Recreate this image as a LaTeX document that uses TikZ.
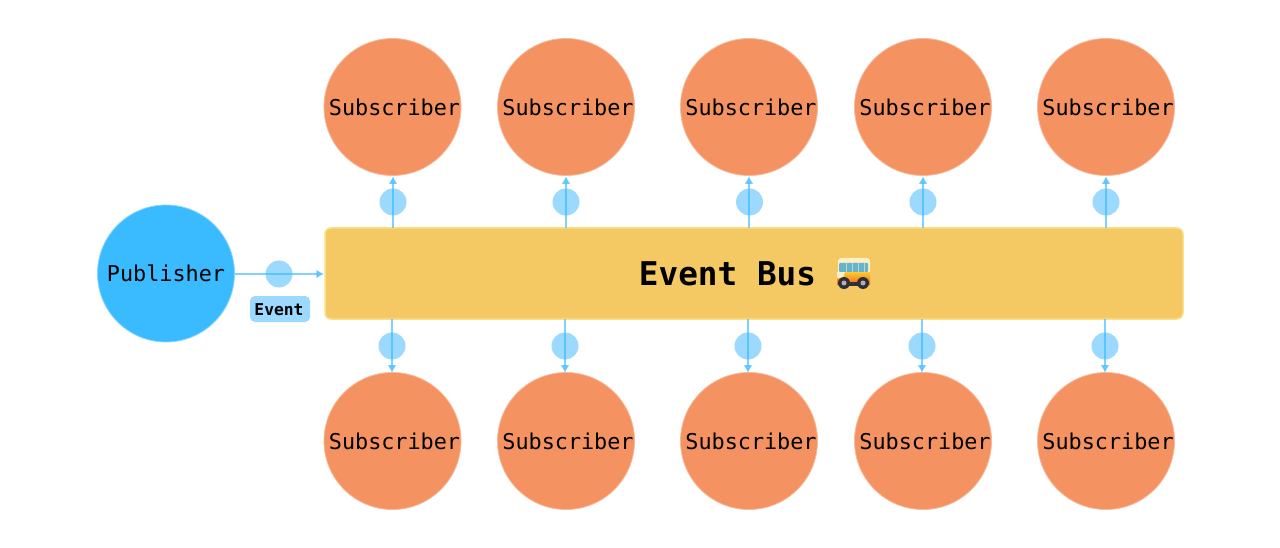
\documentclass[tikz,border=0pt]{standalone}
\usepackage{fontspec}
\setmonofont{DejaVu Sans Mono}
\definecolor{pubblue}{HTML}{3ABAFF}
\definecolor{subor}{HTML}{F49361}
\definecolor{subedge}{HTML}{F7B99A}
\definecolor{busyel}{HTML}{F4C964}
\definecolor{busedge}{HTML}{FBE08A}
\definecolor{tok}{HTML}{9BD9FF}
\definecolor{wire}{HTML}{3ABAFF}
\definecolor{emroof}{HTML}{FBEFC4}
\definecolor{emglass}{HTML}{63B4CC}
\definecolor{emyel}{HTML}{FFCB2E}
\definecolor{emor}{HTML}{EE6A25}
\definecolor{emtyre}{HTML}{2F2F35}
\definecolor{emhub}{HTML}{B0B0B5}
\usetikzlibrary{arrows.meta}
\tikzset{x=1pt,y=-1pt,
  subnode/.style={circle,fill=subor,draw=subedge,line width=0.8pt,minimum size=137pt,inner sep=0pt},
  sublabel/.style={font=\ttfamily\fontsize{21.8}{24}\selectfont,text=black,inner sep=0pt},
  pubnode/.style={circle,fill=pubblue,draw=pubblue!60,line width=0.8pt,minimum size=137pt,inner sep=0pt,font=\ttfamily\fontsize{21.8}{24}\selectfont,text=black},
  busnode/.style={rounded corners=6pt,fill=busyel,draw=busedge,line width=1.5pt,minimum width=858pt,minimum height=91pt,inner sep=0pt},
  tokennode/.style={circle,fill=tok,minimum size=27pt,inner sep=0pt},
  lblnode/.style={rounded corners=5pt,fill=tok,minimum width=60pt,minimum height=26pt,inner sep=0pt},
  wireline/.style={draw=wire,opacity=.65,line width=1.7pt,-{Latex[length=8pt,width=9pt,fill=wire]}},
}
\begin{document}
\begin{tikzpicture}
\useasboundingbox (0,0) rectangle (1280,548);
\fill[white] (0,0) rectangle (1280,548);
\node[pubnode] (pub) at (166,273.5) {Publisher};
\node[busnode] (bus) at (754,273.5) {};
\node[font=\ttfamily\bfseries\fontsize{32.7}{36}\selectfont,text=black,anchor=center] (bustext) at (727.5,274) {Event Bus};
\foreach \n/\x in {1/392.5,2/566,3/749,4/923,5/1106}{
  \node[subnode] (t\n) at (\x,107) {};
  \node[subnode] (b\n) at (\x,441) {};
  \node[sublabel] (tl\n) at ([xshift=2pt]t\n.center) {Subscriber};
  \node[sublabel] (bl\n) at ([xshift=2pt]b\n.center) {Subscriber};
}
\node[tokennode] (ev) at (279,274) {};
\node[lblnode] (evl) at (280,309) {};
\node[font=\ttfamily\bfseries\fontsize{16.3}{18}\selectfont,text=black] (evt) at (279,310) {Event};
\foreach \n/\x/\w in {1/393/393,2/566/566,3/749.5/749,4/923/923,5/1106/1106}{
  \node[tokennode] (tt\n) at (\x,202) {};
  \coordinate (ts\n) at (\w,228);
  \coordinate (te\n) at (\w,176);
  \draw[wireline] (ts\n) -- (te\n);
}
\foreach \n/\x in {1/392,2/565,3/748,4/922,5/1105}{
  \node[tokennode] (bt\n) at (\x,346) {};
  \coordinate (bs\n) at (\x,319);
  \coordinate (be\n) at (\x,373);
  \draw[wireline] (bs\n) -- (be\n);
}
\draw[wireline] (pub.east |- ev.center) -- (bus.west |- ev.center);
% bus emoji
\begin{scope}[shift={(837,258)}]
  \fill[emroof,rounded corners=3pt] (1,0) rectangle (33,16);
  \fill[emglass,rounded corners=1pt] (2,5) rectangle (31,14);
  \foreach \wx in {9,15,21,27}{\fill[emroof!60!emglass] (\wx,5) rectangle (\wx+0.7,14);}
  \shade[top color=emyel,bottom color=emor] (0,14) rectangle (33,26);
  \fill[emroof] (0,14) -- (8,14) -- (6,20) -- (0,20) -- cycle;
  \fill[emtyre] (3,24) rectangle (31,28);
  \foreach \cx in {7,26}{
    \fill[emtyre] (\cx,25) circle (6);
    \fill[emhub] (\cx,25) circle (2.5);
  }
\end{scope}
\end{tikzpicture}
\end{document}
